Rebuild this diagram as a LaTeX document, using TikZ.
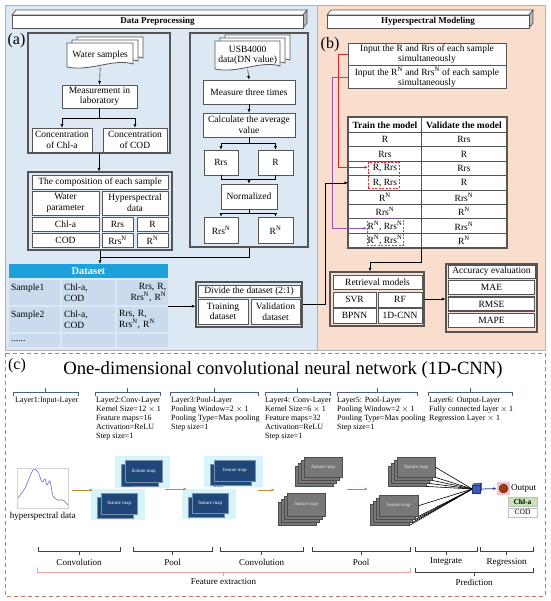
\documentclass[tikz,border=0pt]{standalone}
\usepackage{fontspec}
\setmainfont{Liberation Serif}
\usetikzlibrary{arrows.meta,positioning,calc}

\definecolor{panelblue}{RGB}{220,232,244}
\definecolor{panelpeach}{RGB}{249,222,206}
\definecolor{boxgray}{RGB}{85,85,85}
\definecolor{dshead}{RGB}{30,160,216}
\definecolor{dsrow}{RGB}{201,219,236}
\definecolor{navymap}{RGB}{31,72,120}
\definecolor{mapglow}{RGB}{214,244,249}
\definecolor{mapgray}{RGB}{120,120,120}
\definecolor{arrowgold}{RGB}{188,140,50}
\definecolor{dashbrown}{RGB}{196,120,96}
\definecolor{slateline}{RGB}{70,95,125}
\definecolor{pinkline}{RGB}{236,165,160}
\definecolor{chlgreen}{RGB}{200,228,182}
\definecolor{outbrown}{RGB}{150,62,12}
\definecolor{outpink}{RGB}{246,190,216}
\definecolor{cubeblue}{RGB}{60,90,190}
\definecolor{curveblue}{RGB}{100,110,200}
\definecolor{linered}{RGB}{232,30,40}
\definecolor{linepurple}{RGB}{145,85,175}

\newcommand{\rN}{R\textsuperscript{N}}
\newcommand{\rrsN}{Rrs\textsuperscript{N}}

\newcommand{\wavepage}[4]{%
  \filldraw[draw=boxgray,fill=white,line width=0.8pt] (#1,#2) -- (#1+#3,#2) -- (#1+#3,#2+#4-3)
    .. controls (#1+0.7*#3,#2+#4-9) and (#1+0.35*#3,#2+#4+5) .. (#1,#2+#4) -- cycle;}
\newcommand{\docstack}[4]{%
  \wavepage{#1+10}{#2-6}{#3}{#4}%
  \wavepage{#1+5}{#2-3}{#3}{#4}%
  \wavepage{#1}{#2}{#3}{#4}}
\newcommand{\banner}[4]{%
  \filldraw[draw=boxgray,fill=white,line width=0.7pt] (#1,#2) -- (#1+4,#2-5) -- (#3+4,#2-5) -- (#3,#2) -- cycle;
  \filldraw[draw=boxgray,fill=gray!55,line width=0.7pt] (#3,#2) -- (#3+4,#2-5) -- (#3+4,#4-5) -- (#3,#4) -- cycle;
  \filldraw[draw=boxgray,fill=white,line width=0.7pt] (#1,#2) rectangle (#3,#4);}
\newcommand{\bracket}[5]{%
  \draw[#5,line width=0.7pt] (#1,{#3+(#4)}) -- (#1,#3) -- (#2,#3) -- (#2,{#3+(#4)})
    ({(#1+#2)/2},#3) -- ({(#1+#2)/2},{#3-(#4)});}
\newcommand{\navymap}[5]{%
  \fill[mapglow] (#2-10,#3-4) rectangle (#2+#4+8,#3+#5+6);
  \filldraw[draw=navymap!60!white,fill=navymap] (#2-4,#3+4) rectangle ++(#4,#5);
  \node[draw=navymap!60!white,fill=navymap,text=white,font=\fontsize{5}{5}\selectfont,
    minimum width=#4,minimum height=#5,inner sep=0pt,anchor=north west] (#1) at (#2,#3) {feature map};}
\newcommand{\graystack}[5]{%
  \foreach \lay in {3,2,1}{\filldraw[draw=black!70,fill=mapgray] (#2-3*\lay,#3+3*\lay) rectangle ++(#4,#5);}
  \node[draw=black!70,fill=mapgray,text=white!85!gray,font=\fontsize{5}{5}\selectfont,
    minimum width=#4,minimum height=#5,inner sep=0pt,anchor=north west] (#1) at (#2,#3) {feature map};}

\begin{document}
\begin{tikzpicture}[x=1pt,y=-1pt,>={Latex[length=3.5pt,width=3pt]}]
  \tikzstyle{box}=[draw=boxgray,fill=white,line width=0.9pt,align=center,inner sep=1pt,font=\fontsize{9.5}{10.5}\selectfont]
  \tikzstyle{grpframe}=[draw=boxgray,line width=1.3pt,inner sep=0pt]
  \tikzstyle{tabcell}=[box,minimum height=14.4,anchor=north west]
  \tikzstyle{metric}=[box,line width=1.6pt,minimum width=86,minimum height=14]
  \tikzstyle{dscell}=[fill=dsrow,anchor=north west,inner sep=2pt,align=left,font=\fontsize{9.5}{10.5}\selectfont]
  \tikzstyle{layertxt}=[anchor=north west,align=left,inner sep=0pt,font=\fontsize{8}{9}\selectfont]
  \tikzstyle{brlabel}=[inner sep=1pt,font=\fontsize{9}{10}\selectfont]
  \tikzstyle{goldarrow}=[->,arrowgold,line width=0.9pt]
  \tikzstyle{panellab}=[inner sep=0pt,font=\fontsize{16}{16}\selectfont]
  \useasboundingbox (0,0) rectangle (550,601);

  \fill[panelblue] (5,5) rectangle (317,350);
  \fill[panelpeach] (317,5) rectangle (545,350);
  \draw[gray!60,line width=0.8pt] (5,5) rectangle (545,350) (317,5) -- (317,350);
  \draw[dashbrown,line width=0.9pt,dash pattern=on 4pt off 3pt] (5,353) rectangle (545,596);

  % data preprocessing
  \banner{12}{15}{303}{28}
  \node[font=\bfseries\fontsize{9}{10}\selectfont] (bana) at (157.5,21.5) {Data Preprocessing};
  \node[panellab] (laba) at (16.5,41) {(a)};

  \node[grpframe,minimum width=142,minimum height=120] (frm1) at (99,93) {};
  \docstack{67}{43}{66}{24}
  \node[inner sep=0pt,minimum width=66,minimum height=24,anchor=north west,font=\fontsize{9.5}{10.5}\selectfont] (water) at (67,43) {Water samples};
  \node[box,minimum width=75,minimum height=23] (meas) at (99.5,96.5) {Measurement in\\laboratory};
  \node[box,minimum width=60,minimum height=24] (conchl) at (62,140) {Concentration\\of Chl-a};
  \node[box,minimum width=64,minimum height=24] (concod) at (135,140) {Concentration\\of COD};
  \draw[->] (water.south) -- (meas.north);
  \draw[->] (meas.south) -- ++(0,10) -| (conchl.north);
  \draw[->] (meas.south) -- ++(0,10) -| (concod.north);

  \node[grpframe,minimum width=144,minimum height=78] (frm2) at (100,211) {};
  \node[box,minimum width=136,minimum height=14] (comp) at (100,182) {The composition of each sample};
  \node[box,minimum width=67,minimum height=24] (wpar) at (65.5,203) {Water\\parameter};
  \node[box,minimum width=66,minimum height=24] (hdat) at (135,203) {Hyperspectral\\data};
  \node[box,minimum width=67,minimum height=14] (chla) at (65.5,224) {Chl-a};
  \node[box,minimum width=31,minimum height=14] (rrsa) at (117.5,224) {Rrs};
  \node[box,minimum width=31,minimum height=14] (ra) at (152.5,224) {R};
  \node[box,minimum width=67,minimum height=14] (cod) at (65.5,240) {COD};
  \node[box,minimum width=31,minimum height=14] (rrsna) at (117.5,240) {\rrsN};
  \node[box,minimum width=31,minimum height=14] (rna) at (152.5,240) {\rN};
  \draw[->] (frm1.south) -- (frm1.south |- frm2.north);

  \node[grpframe,minimum width=118,minimum height=214] (frm3) at (249,140) {};
  \docstack{215}{41}{65}{28}
  \node[inner sep=0pt,minimum width=65,minimum height=28,anchor=north west,align=center,font=\fontsize{9.5}{10.5}\selectfont] (usb) at (215,41) {USB4000\\data(DN value)};
  \node[box,minimum width=92,minimum height=24] (meas3) at (249,92) {Measure three times};
  \node[box,minimum width=92,minimum height=24] (calc) at (249,125) {Calculate the average\\value};
  \node[box,minimum width=34,minimum height=25] (rrsb) at (221,162.5) {Rrs};
  \node[box,minimum width=35,minimum height=25] (rb) at (275.5,162.5) {R};
  \node[box,minimum width=56,minimum height=25] (norm) at (249,196.5) {Normalized};
  \node[box,minimum width=34,minimum height=26] (rrsnb) at (221,230) {\rrsN};
  \node[box,minimum width=35,minimum height=26] (rnb) at (275.5,230) {\rN};
  \draw[->] (usb.south) -- (meas3.north);
  \draw[->] (meas3.south) -- (calc.north);
  \draw[->] (calc.south) -- ++(0,6) -| (rrsb.north);
  \draw[->] (calc.south) -- ++(0,6) -| (rb.north);
  \coordinate (mrg) at ($(norm.north)+(0,-4)$);
  \draw (rrsb.south) |- (mrg) -| (rb.south);
  \draw[->] (mrg) -- (norm.north);
  \draw[->] (norm.south) -- ++(0,4) -| (rrsnb.north);
  \draw[->] (norm.south) -- ++(0,4) -| (rnb.north);

  \node[fill=dshead,text=white,font=\bfseries\fontsize{10.5}{12}\selectfont,minimum width=159,minimum height=14,inner sep=0pt] (dset) at (88.5,271) {Dataset};
  \node[dscell,minimum height=25,text width=47] (s1n) at (9,280) {Sample1\\\mbox{}};
  \node[dscell,minimum height=25,text width=49] (s1p) at (62,280) {Chl-a,\\COD};
  \node[dscell,minimum height=25,text width=47,align=right] (s1h) at (117,280) {Rrs, R,\\\rrsN, \rN};
  \node[dscell,minimum height=25,text width=47] (s2n) at (9,307) {Sample2\\\mbox{}};
  \node[dscell,minimum height=25,text width=49] (s2p) at (62,307) {Chl-a,\\COD};
  \node[dscell,minimum height=25,text width=47] (s2h) at (117,307) {Rrs, R,\\\rrsN, \rN};
  \node[dscell,minimum height=13,text width=47] (s3n) at (9,334) {......};
  \node[dscell,minimum height=13,text width=49] (s3p) at (62,334) {};
  \node[dscell,minimum height=13,text width=47] (s3h) at (117,334) {};
  \coordinate (join) at ($(frm2.south)!0.5!(frm2.south |- dset.north)$);
  \draw[->] (frm2.south) -- (frm2.south |- dset.north);
  \draw (frm3.south) |- (join);

  \node[grpframe,minimum width=106,minimum height=45] (divide) at (249,304.5) {};
  \node[box,minimum width=102,minimum height=12] (divt) at (249,291) {Divide the dataset (2:1)};
  \node[box,minimum width=50,minimum height=25] (train) at (223,311.5) {Training\\dataset};
  \node[box,minimum width=49,minimum height=25] (valid) at (275.5,311.5) {Validation\\dataset};
  \coordinate (dsout) at ($(s1h.south east)!0.5!(s2h.north east)$);
  \draw[->] (dsout) -- (dsout -| divide.west);

  % hyperspectral modeling
  \banner{327}{15}{529}{28}
  \node[font=\bfseries\fontsize{9}{10}\selectfont] (banb) at (428,21.5) {Hyperspectral Modeling};
  \node[panellab] (labb) at (330,45) {(b)};
  \node[box,minimum width=158,minimum height=23,font=\fontsize{9.5}{10}\selectfont] (in1) at (427,54.5) {Input the R and Rrs of each sample\\simultaneously};
  \node[box,minimum width=158,minimum height=22,font=\fontsize{9.5}{10}\selectfont] (in2) at (427,77) {Input the \rN{} and \rrsN{} of each sample\\simultaneously};

  \node[tabcell,minimum width=73,minimum height=15,font=\bfseries\fontsize{9.5}{10}\selectfont] (th1) at (348,117) {Train the model};
  \node[tabcell,minimum width=85,minimum height=15,font=\bfseries\fontsize{9.5}{10}\selectfont] (th2) at (421,117) {Validate the model};
  \foreach \i/\a/\b in {1/R/Rrs, 2/Rrs/R, 3/{R, Rrs}/Rrs, 4/{R, Rrs}/R, 5/\rN/\rrsN, 6/\rrsN/\rN, 7/{\rN, \rrsN}/\rrsN, 8/{\rN, \rrsN}/\rN} {
    \node[tabcell,minimum width=73] (tr\i) at (348,{132+14.4*(\i-1)}) {\a};
    \node[tabcell,minimum width=85] (va\i) at (421,{132+14.4*(\i-1)}) {\b};
  }
  \draw[boxgray,line width=1.3pt] (th1.north west) rectangle (va8.south east);
  \node[draw=linered,line width=0.7pt,dash pattern=on 2pt off 1.5pt,minimum width=31,minimum height=26,inner sep=0pt,anchor=north west] (redbox) at (368,162) {};
  \node[draw=linepurple,line width=0.7pt,dash pattern=on 2pt off 1.5pt,minimum width=36,minimum height=27,inner sep=0pt,anchor=north west] (purbox) at (367,218) {};
  \draw[linered,->,line width=0.7pt] (in1.west) -- ++(-9,0) |- ([yshift=8pt]redbox.west);
  \draw[linepurple,->,line width=0.7pt] (in2.west) -- ++(-15,0) |- ([yshift=3.5pt]purbox.west);
  \draw[->] (divide.east) -- ++(23,0) |- (tr4.west);

  \node[grpframe,minimum width=94,minimum height=54] (retr) at (377,299) {};
  \node[box,minimum width=89,minimum height=14] (rmod) at (377.5,282) {Retrieval models};
  \node[box,minimum width=43,minimum height=15] (svr) at (354.5,299.5) {SVR};
  \node[box,minimum width=44,minimum height=15] (rf) at (400,299.5) {RF};
  \node[box,minimum width=43,minimum height=15] (bpnn) at (354.5,315.5) {BPNN};
  \node[box,minimum width=44,minimum height=15] (cnn) at (400,315.5) {1D-CNN};
  \draw[->] (va8.south west) -- ++(0,14) -| ([xshift=-7pt]retr.north);

  \node[grpframe,minimum width=91,minimum height=68] (acc) at (491.5,298) {};
  \node[box,minimum width=87,minimum height=13] (acct) at (491.5,271.5) {Accuracy evaluation};
  \node[metric] (mae) at (491.5,287.5) {MAE};
  \node[metric] (rmse) at (491.5,304) {RMSE};
  \node[metric] (mape) at (491.5,320.5) {MAPE};
  \draw[->] (retr.east) -- (retr.east -| acc.west);

  % 1D-CNN
  \node[panellab] (labc) at (17,366) {(c)};
  \node[font=\fontsize{18.7}{20}\selectfont] (title) at (283,370) {One-dimensional convolutional neural network (1D-CNN)};

  \bracket{13}{78}{392}{4}{slateline}
  \bracket{95}{160}{392}{4}{slateline}
  \bracket{170}{258}{392}{4}{slateline}
  \bracket{265}{330}{392}{4}{slateline}
  \bracket{337}{417}{392}{4}{slateline}
  \bracket{428}{512}{392}{4}{slateline}
  \node[layertxt] (lay1) at (15,397) {Layer1:Input-Layer};
  \node[layertxt] (lay2) at (96,397) {Layer2:Conv-Layer\\Kernel Size=12 $\times$ 1\\Feature maps=16\\Activation=ReLU\\Step size=1};
  \node[layertxt] (lay3) at (171,397) {Layer3:Pool-Layer\\Pooling Window=2 $\times$ 1\\Pooling Type=Max pooling\\Step size=1};
  \node[layertxt] (lay4) at (265,397) {Layer4: Conv-Layer\\Kernel Size=6 $\times$ 1\\Feature maps=32\\Activation=ReLU\\Step size=1};
  \node[layertxt] (lay5) at (337,397) {Layer5: Pool-Layer\\Pooling Window=2 $\times$ 1\\Pooling Type=Max pooling\\Step size=1};
  \node[layertxt] (lay6) at (429,397) {Layer6: Output-Layer\\Fully connected layer $\times$ 1\\Regression Layer $\times$ 1};

  \node[draw=gray!35,minimum width=51,minimum height=40,inner sep=0pt,anchor=north west] (spec) at (17,468) {};
  \draw[curveblue,line width=0.6pt] plot[smooth] coordinates {(18,498) (25,488) (33,470) (38,472) (42,482) (45,479) (47,485) (50,481) (53,496) (58,500) (63,500) (68,505)};
  \node[below=3pt of spec,inner sep=1pt,font=\fontsize{9}{10}\selectfont] (specl) {hyperspectral data};

  \navymap{g1u}{125}{460}{37}{22}
  \navymap{g1l}{101}{493}{36}{21}
  \navymap{g2u}{214}{460}{41}{21}
  \navymap{g2l}{192}{493}{36}{20}
  \graystack{g3u}{304}{457}{38}{20}
  \graystack{g3l}{287}{493}{38}{23}
  \graystack{g4u}{397}{457}{38}{20}
  \graystack{g4l}{379}{495}{39}{21}
  \foreach \d/\x in {d1/128,d2/218,d3/308,d4/397}
    \node[navymap,inner sep=0pt,font=\bfseries\fontsize{6}{6}\selectfont] (\d) at (\x,487) {......};

  \coordinate (ga1) at (72,490);  \coordinate (gb1) at (93,490);
  \coordinate (ga2) at (165,489); \coordinate (gb2) at (187,489);
  \coordinate (ga3) at (258,490); \coordinate (gb3) at (275,490);
  \coordinate (ga4) at (347,489); \coordinate (gb4) at (368,489);
  \foreach \n in {1,2,3,4} \draw[goldarrow] (ga\n) -- (gb\n);

  \node[inner sep=0pt,minimum size=7] (cube) at (476,489) {};
  \draw[line width=0.6pt] (g4u.east) -- (cube.west) (g4l.east) -- (cube.west);
  \foreach \m in {0,1,2,3} {
    \draw[line width=0.6pt] ([shift={(-3*\m,3*\m)}]g4u.south east) -- (cube.west);
    \draw[line width=0.6pt] ([shift={(-3*\m,3*\m)}]g4l.south east) -- (cube.west);
  }
  \filldraw[fill=cubeblue!80!white,draw=cubeblue!60!black,line width=0.4pt] (cube.north west) -- ++(2,-2) -- ++(7,0) -- (cube.north east) -- cycle;
  \filldraw[fill=cubeblue!70!black,draw=cubeblue!60!black,line width=0.4pt] (cube.north east) -- ++(2,-2) -- ++(0,7) -- (cube.south east) -- cycle;
  \filldraw[fill=cubeblue,draw=cubeblue!60!black,line width=0.4pt] (cube.south west) rectangle (cube.north east);

  \node[fill=outpink,minimum size=13,inner sep=0pt] (outbg) at (503.5,488.5) {};
  \node[circle,fill=outbrown,draw=outbrown!60!black,minimum size=9,inner sep=0pt] (outc) at (503.5,488.5) {};
  \draw[->,cubeblue!80!black,line width=0.8pt] ([xshift=2pt]cube.east) -- (outbg.west);
  \node[anchor=west,inner sep=0pt,font=\fontsize{9}{10}\selectfont] (outt) at (511,488.5) {Output};
  \node[fill=chlgreen,draw=gray!50,minimum width=29,minimum height=9,inner sep=0pt,font=\bfseries\fontsize{7.5}{8}\selectfont] (ochl) at (522.5,501.5) {Chl-a};
  \node[fill=white,draw=gray!50,minimum width=29,minimum height=9,inner sep=0pt,font=\fontsize{7.5}{8}\selectfont] (ocod) at (522.5,512.5) {COD};

  \bracket{38}{120}{551}{-4}{black!75}
  \bracket{133}{212}{551}{-4}{black!75}
  \bracket{220}{303}{551}{-4}{black!75}
  \bracket{312}{410}{551}{-4}{black!75}
  \bracket{415}{477}{551}{-4}{black!75}
  \bracket{480}{533}{551}{-4}{black!75}
  \bracket{37}{410}{572}{-4}{pinkline}
  \bracket{415}{533}{572}{-4}{black!75}
  \node[brlabel] (lconva) at (79,562) {Convolution};
  \node[brlabel] (lpoola) at (172.5,562) {Pool};
  \node[brlabel] (lconvb) at (261.5,562) {Convolution};
  \node[brlabel] (lpoolb) at (361,562) {Pool};
  \node[brlabel] (linteg) at (446,562) {Integrate};
  \node[brlabel] (lregr) at (506.5,562) {Regression};
  \node[brlabel] (lfeat) at (223.5,582) {Feature extraction};
  \node[brlabel] (lpred) at (474,582) {Prediction};
\end{tikzpicture}
\end{document}
